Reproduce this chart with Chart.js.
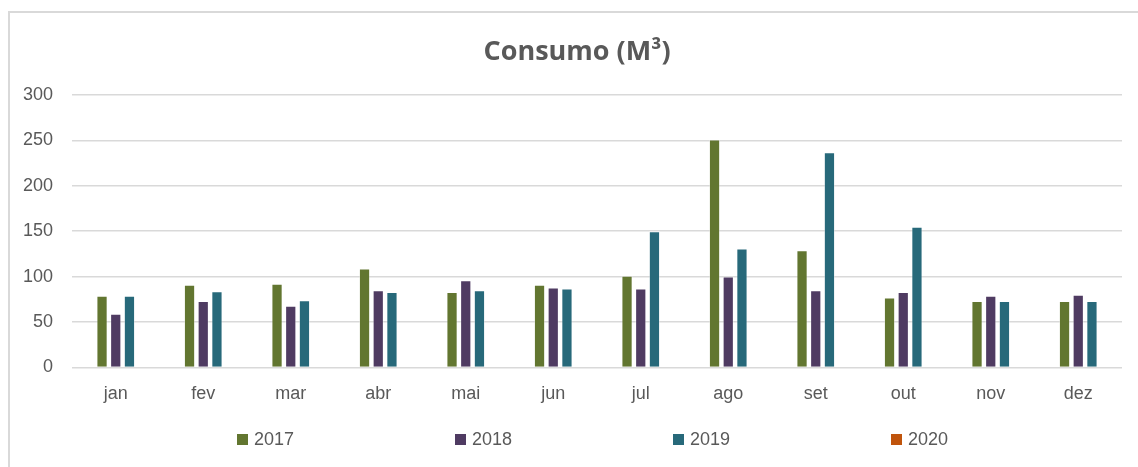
<!DOCTYPE html>
<html>
<head>
<meta charset="utf-8">
<script src="https://cdn.jsdelivr.net/npm/chart.js@4/dist/chart.umd.min.js"></script>
<style>
	html, body { margin: 0; padding: 0; background: #fff; overflow: hidden; }
	#frame {
		position: absolute; left: 8px; top: 11px; width: 1200px; height: 600px;
		border-left: 2px solid #d9d9d9; border-top: 2px solid #d9d9d9;
	}
	#wrap { position: absolute; left: 0; top: 0; width: 1138px; height: 467px; }
</style>
</head>
<body>
<div id="frame"></div>
<div id="wrap"><canvas id="graph"></canvas></div>
<script>
const months = ["jan", "fev", "mar", "abr", "mai", "jun", "jul", "ago", "set", "out", "nov", "dez"];
const values2017 = [79, 91, 92, 109, 83, 91, 101, 251, 129, 77, 73, 73];
const values2018 = [59, 73, 68, 85, 96, 88, 87, 100, 85, 83, 79, 80];
const values2019 = [79, 84, 74, 83, 85, 87, 150, 131, 237, 155, 73, 73];
const values2020 = [];
const yTicks = [0, 50, 100, 150, 200, 250, 300];

const chartTitle = "Consumo (M³)";
const textColor = "#595959";

// title and legend drawn by hand: the Excel frame is wider than the screenshot,
// so the title is off-centre and the legend entries are spread far apart
const excelDecor = {
	id: "excelDecor",
	afterDraw(chart) {
		const ctx = chart.ctx;
		ctx.save();
		ctx.textBaseline = "middle";

		ctx.font = "bold 27px 'Open Sans'";
		ctx.textAlign = "center";
		ctx.fillStyle = textColor;
		ctx.fillText(chartTitle, 577, 52);

		ctx.font = "18px 'Liberation Sans'";
		ctx.textAlign = "left";
		chart.data.datasets.forEach((ds, i) => {
			const x = 237 + i * 218;
			const y = 440;
			ctx.fillStyle = ds.backgroundColor;
			ctx.fillRect(x, y - 6, 11, 11);
			ctx.fillStyle = textColor;
			ctx.fillText(ds.label, x + 17, y);
		});
		ctx.restore();
	},
};

new Chart(document.getElementById("graph"), {
	type: "bar",
	data: {
		labels: months,
		datasets: [
			{ label: "2017", data: values2017, backgroundColor: "#627630", borderColor: "rgba(255,255,255,0.35)", borderWidth: 1 },
			{ label: "2018", data: values2018, backgroundColor: "#4f3b62", borderColor: "rgba(255,255,255,0.35)", borderWidth: 1 },
			{ label: "2019", data: values2019, backgroundColor: "#27697a", borderColor: "rgba(255,255,255,0.35)", borderWidth: 1 },
			{ label: "2020", type: "line", data: values2020, backgroundColor: "#c0540c", borderColor: "#c0540c" },
		],
	},
	options: {
		responsive: true,
		maintainAspectRatio: false,
		animation: false,
		categoryPercentage: 0.47,
		barPercentage: 0.82,
		layout: { padding: { left: 0, right: 16, top: 95, bottom: 46 } },
		plugins: {
			legend: { display: false },
			title: { display: false },
			tooltip: { enabled: false },
		},
		scales: {
			x: {
				grid: { display: false, drawTicks: false },
				border: { display: false },
				ticks: { color: textColor, padding: 16, font: { family: "'Liberation Sans'", size: 18 } },
			},
			y: {
				min: 0,
				max: 300,
				afterFit: (scale) => { scale.width = 72; },
				afterBuildTicks: (scale) => { scale.ticks = yTicks.map((v) => ({ value: v })); },
				grid: { color: "#d9d9d9", lineWidth: 1.5, drawTicks: false },
				border: { display: false },
				ticks: { color: textColor, padding: 19, font: { family: "'Liberation Sans'", size: 18 } },
			},
		},
	},
	plugins: [excelDecor],
});
</script>
</body>
</html>
